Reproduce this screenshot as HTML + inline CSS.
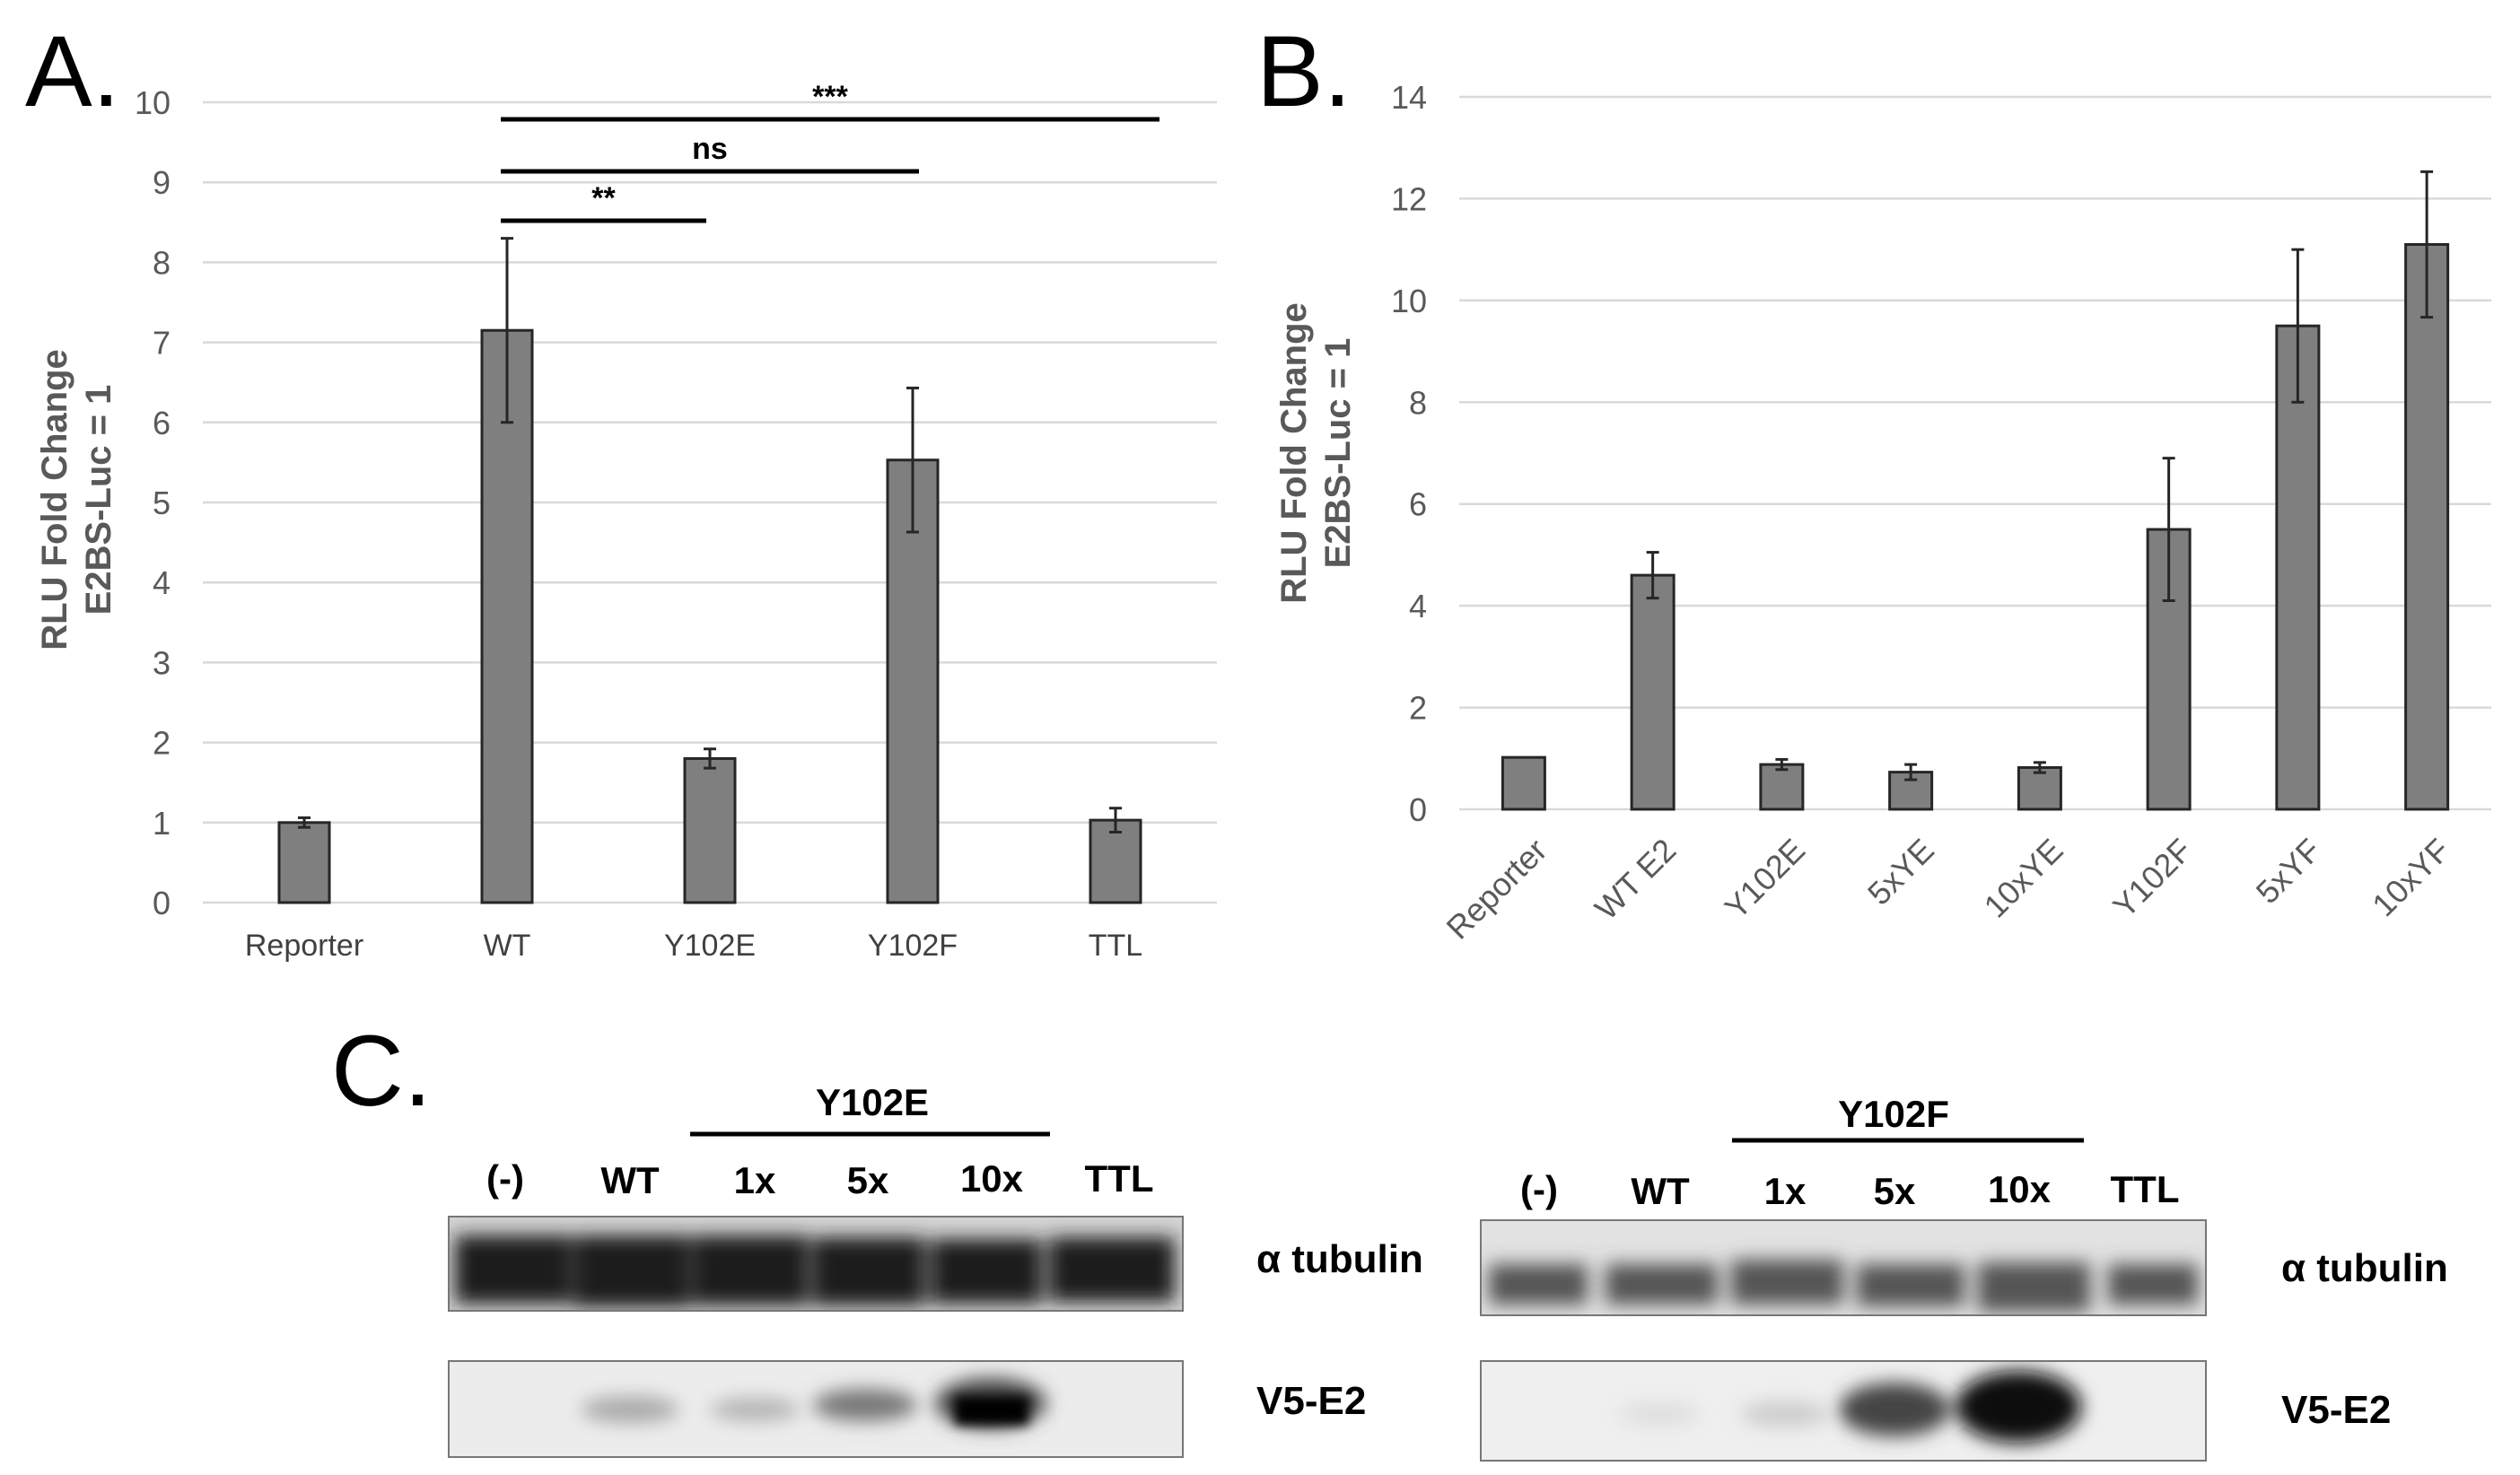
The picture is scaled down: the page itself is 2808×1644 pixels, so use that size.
<!DOCTYPE html>
<html><head><meta charset="utf-8"><style>
body{margin:0;background:#fff}
svg{display:block}
text{font-family:"Liberation Sans",sans-serif}
</style></head><body>
<svg id="fig" width="2808" height="1644" viewBox="0 0 2808 1644" xmlns="http://www.w3.org/2000/svg">
<defs>
<filter id="b8" x="-50%" y="-50%" width="200%" height="200%"><feGaussianBlur stdDeviation="10"/></filter>
<filter id="b5" x="-50%" y="-50%" width="200%" height="200%"><feGaussianBlur stdDeviation="6"/></filter>
</defs>
<g id="chartA"></g>
<g id="chartB"></g>
<g id="panelC">
<text x="369" y="1232" font-size="112" fill="#000">C.</text>
<text x="972" y="1243" font-size="42" font-weight="bold" text-anchor="middle">Y102E</text>
<line x1="769" y1="1264" x2="1170" y2="1264" stroke="#000" stroke-width="5"/>
<g font-size="42" font-weight="bold" text-anchor="middle">
<text x="563" y="1328">(-)</text><text x="702" y="1330">WT</text><text x="841" y="1330">1x</text><text x="967" y="1330">5x</text><text x="1105" y="1328">10x</text><text x="1247" y="1328">TTL</text></g>
<text x="2110" y="1256" font-size="42" font-weight="bold" text-anchor="middle">Y102F</text>
<line x1="1930" y1="1271" x2="2322" y2="1271" stroke="#000" stroke-width="5"/>
<g font-size="42" font-weight="bold" text-anchor="middle">
<text x="1715" y="1340">(-)</text><text x="1850" y="1342">WT</text><text x="1989" y="1342">1x</text><text x="2111" y="1342">5x</text><text x="2250" y="1340">10x</text><text x="2390" y="1340">TTL</text></g>
<svg x="499" y="1355" width="820" height="107">
<rect width="820" height="107" fill="#d4d4d4"/>
<g filter="url(#b8)" fill="#1e1e1e">
<rect x="8" y="22" width="130" height="76"/><rect x="140" y="22" width="130" height="80"/><rect x="272" y="22" width="130" height="78"/><rect x="406" y="24" width="126" height="76"/><rect x="538" y="26" width="124" height="72"/><rect x="670" y="24" width="140" height="72"/>
</g>
<rect width="820" height="107" fill="none" stroke="#777" stroke-width="4"/></svg>
<svg x="499" y="1516" width="820" height="109">
<rect width="820" height="109" fill="#ececec"/>
<g filter="url(#b8)">
<ellipse cx="203" cy="55" rx="55" ry="15" fill="#aaa"/><ellipse cx="342" cy="55" rx="50" ry="13" fill="#b4b4b4"/><ellipse cx="465" cy="50" rx="58" ry="18" fill="#777"/><ellipse cx="605" cy="48" rx="62" ry="28" fill="#444"/></g>
<g filter="url(#b5)"><rect x="565" y="40" width="82" height="32" fill="#000"/></g>
<rect width="820" height="109" fill="none" stroke="#777" stroke-width="4"/></svg>
<text x="1400" y="1418" font-size="44" font-weight="bold">α tubulin</text>
<text x="1400" y="1576" font-size="44" font-weight="bold">V5-E2</text>
<svg x="1649" y="1359" width="810" height="108">
<rect width="810" height="108" fill="#e2e2e2"/>
<g filter="url(#b8)" fill="#555">
<rect x="10" y="50" width="110" height="45"/><rect x="140" y="50" width="125" height="45"/><rect x="280" y="45" width="125" height="50"/><rect x="420" y="50" width="120" height="47"/><rect x="555" y="48" width="125" height="55"/><rect x="700" y="50" width="100" height="45"/>
</g>
<rect width="810" height="108" fill="none" stroke="#777" stroke-width="4"/></svg>
<svg x="1649" y="1516" width="810" height="113">
<rect width="810" height="113" fill="#efefef"/>
<g filter="url(#b8)">
<ellipse cx="200" cy="60" rx="45" ry="12" fill="#ddd"/><ellipse cx="340" cy="60" rx="50" ry="14" fill="#ccc"/><ellipse cx="462" cy="55" rx="62" ry="30" fill="#444"/><ellipse cx="600" cy="52" rx="70" ry="40" fill="#111"/></g>
<rect width="810" height="113" fill="none" stroke="#777" stroke-width="4"/></svg>
<text x="2542" y="1428" font-size="44" font-weight="bold">α tubulin</text>
<text x="2542" y="1586" font-size="44" font-weight="bold">V5-E2</text>
</g>
</svg>
<script>
const catsA = ["Reporter","WT","Y102E","Y102F","TTL"];
const valsA = [1.0, 7.15, 1.8, 5.53, 1.03];
const errA = [0.06, 1.15, 0.12, 0.9, 0.15];
const ticksA = [0,1,2,3,4,5,6,7,8,9,10];
const catsB = ["Reporter","WT E2","Y102E","5xYE","10xYE","Y102F","5xYF","10xYF"];
const valsB = [1.02, 4.6, 0.88, 0.73, 0.82, 5.5, 9.5, 11.1];
const errB = [0, 0.45, 0.1, 0.15, 0.1, 1.4, 1.5, 1.43];
const ticksB = [0,2,4,6,8,10,12,14];
const sigLabels = ["**","ns","***"];
const sigTo = [2,3,4];

const NS="http://www.w3.org/2000/svg";
function mk(parent,tag,attrs,txt){const e=document.createElementNS(NS,tag);for(const k in attrs)e.setAttribute(k,attrs[k]);if(txt!==undefined)e.textContent=txt;parent.appendChild(e);return e;}

function drawChart(g,o){
  const ys=v=>o.y0-(v-o.min)/(o.max-o.min)*(o.y0-o.y1);
  const band=(o.x1-o.x0)/o.cats.length;
  const xs=i=>o.x0+band*(i+0.5);
  const pl=mk(g,'text',{x:o.lx,y:o.ly,'font-size':112,fill:'#000'},o.letter);
  
  
  o.ticks.forEach(t=>{
    const l=mk(g,'line',{x1:o.x0,x2:o.x1,y1:ys(t),y2:ys(t),stroke:'#d9d9d9','stroke-width':2.5});
    
    
    const tx=mk(g,'text',{x:o.tickX,y:ys(t)+13,'font-size':36,fill:'#595959','text-anchor':'end'},String(t));
    
    
  });
  o.cats.forEach((c,i)=>{
    const cx=xs(i),v=o.vals[i],e=o.errs[i];
    const r=mk(g,'rect',{x:cx-o.bw/2,y:ys(v),width:o.bw,height:ys(0)-ys(v),fill:'#7f7f7f',stroke:'#262626','stroke-width':3});
    
    
    if(e>0){
      const eg=mk(g,'g',{stroke:'#262626','stroke-width':3});
      
      
      mk(eg,'line',{x1:cx,x2:cx,y1:ys(v+e),y2:ys(v-e)});
      mk(eg,'line',{x1:cx-7,x2:cx+7,y1:ys(v+e),y2:ys(v+e)});
      mk(eg,'line',{x1:cx-7,x2:cx+7,y1:ys(v-e),y2:ys(v-e)});
    }
    let lab;
    if(o.rot){
      lab=mk(g,'text',{x:cx+28,y:o.labY,'font-size':36,fill:'#595959','text-anchor':'end',transform:`rotate(-45 ${cx+28} ${o.labY})`},c);
    } else {
      lab=mk(g,'text',{x:cx,y:o.labY,'font-size':34,fill:'#404040','text-anchor':'middle'},c);
    }
    
    
  });
  const tg=mk(g,'text',{transform:`translate(${o.tx},${o.ty}) rotate(-90)`,'font-size':40,'font-weight':'bold',fill:'#595959','text-anchor':'middle'});
  
  
  mk(tg,'tspan',{x:0,y:0},'RLU Fold Change');
  mk(tg,'tspan',{x:0,y:49},'E2BS-Luc = 1');
  return {xs,ys};
}
const gA=document.getElementById('chartA');
const A=drawChart(gA,{cats:catsA,vals:valsA,errs:errA,ticks:ticksA,min:0,max:10,x0:226,x1:1356,y0:1006,y1:114,bw:56,tickX:190,labY:1065,rot:false,tx:74,ty:557,letter:'A.',lx:28,ly:118});
const sigY=[246,191,133];
const sigPad=[-4,7,49];
sigLabels.forEach((s,k)=>{
  const y=sigY[k];
  const x1=A.xs(1)-7,x2=A.xs(sigTo[k])+sigPad[k];
  const l=mk(gA,'line',{x1:x1,x2:x2,y1:y,y2:y,stroke:'#000','stroke-width':5});
  
  
  const t=mk(gA,'text',{x:(x1+x2)/2,y:y-14,'font-size':34,'font-weight':'bold','text-anchor':'middle'},s);
  
  
});
const gB=document.getElementById('chartB');
drawChart(gB,{cats:catsB,vals:valsB,errs:errB,ticks:ticksB,min:0,max:14,x0:1626,x1:2776,y0:902,y1:108,bw:47,tickX:1590,labY:950,rot:true,tx:1455,ty:505,letter:'B.',lx:1400,ly:118});
</script>
</body></html>
